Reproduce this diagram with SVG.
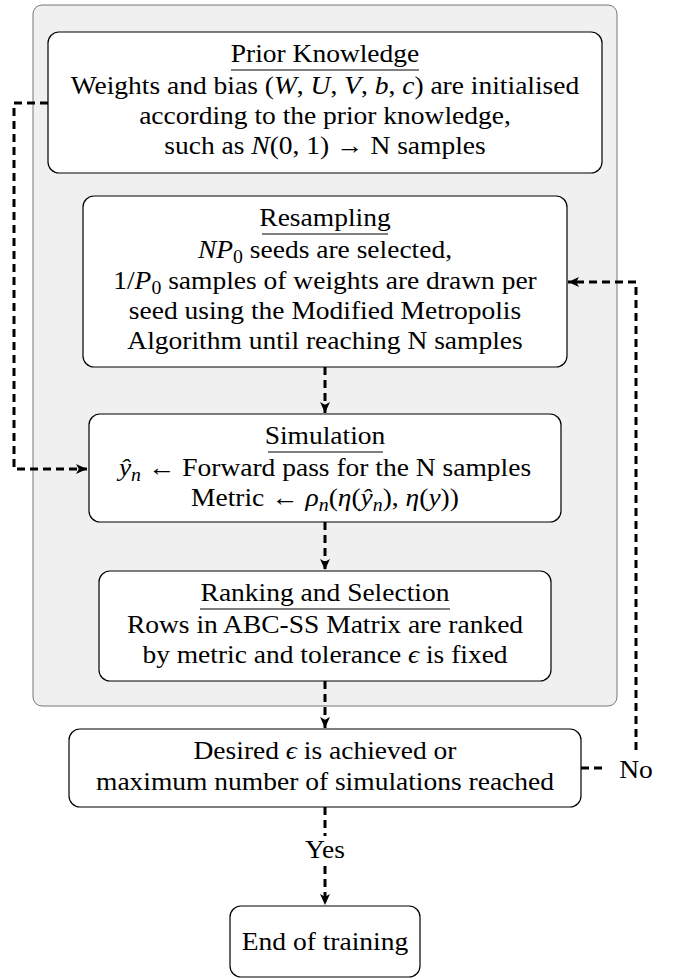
<svg xmlns="http://www.w3.org/2000/svg" width="675" height="979" viewBox="0 0 675 979">
<style>
text{font-size:25px;text-anchor:middle;fill:#000}
.m{font-style:italic}
.box{fill:#fff;stroke:#000;stroke-width:1.2}
.ul{stroke:#000;stroke-width:1.2}
.c{fill:none;stroke:#000;stroke-width:3;stroke-dasharray:8 5}
</style>
<defs>
<marker id="ah" viewBox="0 0 10 10" refX="10" refY="5" markerWidth="11" markerHeight="11" markerUnits="userSpaceOnUse" orient="auto">
<path d="M0,0.5 L10,5 L0,9.5 L2.5,5 z" fill="#000"/>
</marker>
</defs>
<rect id="container" x="33" y="5" width="584" height="701" rx="9" fill="#f0f0f0" stroke="#777" stroke-width="1"/>

<g id="prior">
<rect class="box" x="48" y="32" width="554" height="141" rx="11"/>
<line class="ul" x1="231" y1="70" x2="419" y2="70"/>
<g transform="matrix(1.1 0 0 1 -32.5 0)">
<text x="325" y="62" font-family="Liberation Serif">Prior Knowledge</text>
<text x="325" y="94" font-family="Liberation Serif">Weights and bias (<tspan class="m">W</tspan>, <tspan class="m">U</tspan>, <tspan class="m">V</tspan>, <tspan class="m">b</tspan>, <tspan class="m">c</tspan>) are initialised</text>
<text x="325" y="124" font-family="Liberation Serif">according to the prior knowledge,</text>
<text x="325" y="154" font-family="Liberation Serif">such as <tspan class="m">N</tspan>(0, 1) &#x2192; N samples</text>
</g>
</g>

<g id="resampling">
<rect class="box" x="83" y="196" width="484" height="171" rx="11"/>
<line class="ul" x1="262" y1="234" x2="388" y2="234"/>
<g transform="matrix(1.1 0 0 1 -32.5 0)">
<text x="325" y="226" font-family="Liberation Serif">Resampling</text>
<text x="325" y="258" font-family="Liberation Serif"><tspan class="m">NP</tspan><tspan font-size="18" dy="5">0</tspan><tspan dy="-5"> seeds are selected,</tspan></text>
<text x="325" y="289" font-family="Liberation Serif">1/<tspan class="m">P</tspan><tspan font-size="18" dy="5">0</tspan><tspan dy="-5"> samples of weights are drawn per</tspan></text>
<text x="325" y="319" font-family="Liberation Serif">seed using the Modified Metropolis</text>
<text x="325" y="349" font-family="Liberation Serif">Algorithm until reaching N samples</text>
</g>
</g>

<g id="simulation">
<rect class="box" x="89" y="414" width="472" height="108" rx="11"/>
<line class="ul" x1="268" y1="452" x2="383" y2="452"/>
<g transform="matrix(1.1 0 0 1 -32.5 0)">
<text x="325" y="444" font-family="Liberation Serif">Simulation</text>
<text x="325" y="476" font-family="Liberation Serif"><tspan class="m">&#x177;</tspan><tspan class="m" font-size="18" dy="5">n</tspan><tspan dy="-5"> &#x2190; Forward pass for the N samples</tspan></text>
<text x="325" y="506" font-family="Liberation Serif">Metric &#x2190; <tspan class="m">&#x3C1;</tspan><tspan class="m" font-size="18" dy="5">n</tspan><tspan dy="-5">(</tspan><tspan class="m">&#x3B7;</tspan>(<tspan class="m">&#x177;</tspan><tspan class="m" font-size="18" dy="5">n</tspan><tspan dy="-5">), </tspan><tspan class="m">&#x3B7;</tspan>(<tspan class="m">y</tspan>))</text>
</g>
</g>

<g id="ranking">
<rect class="box" x="99" y="571" width="452" height="110" rx="11"/>
<line class="ul" x1="200" y1="609" x2="450" y2="609"/>
<g transform="matrix(1.1 0 0 1 -32.5 0)">
<text x="325" y="601" font-family="Liberation Serif">Ranking and Selection</text>
<text x="325" y="633" font-family="Liberation Serif">Rows in ABC-SS Matrix are ranked</text>
<text x="325" y="663" font-family="Liberation Serif">by metric and tolerance <tspan class="m">&#x3F5;</tspan> is fixed</text>
</g>
</g>

<g id="decision">
<rect class="box" x="69" y="729" width="512" height="78" rx="11"/>
<g transform="matrix(1.1 0 0 1 -32.5 0)">
<text x="325" y="759" font-family="Liberation Serif">Desired <tspan class="m">&#x3F5;</tspan> is achieved or</text>
<text x="325" y="790" font-family="Liberation Serif">maximum number of simulations reached</text>
</g>
</g>

<g id="end">
<rect class="box" x="230" y="906" width="190" height="71" rx="11"/>
<g transform="matrix(1.1 0 0 1 -32.5 0)">
<text x="325" y="950" font-family="Liberation Serif">End of training</text>
</g>
</g>

<g id="no-label">
<text x="636" y="778" font-family="Liberation Serif" transform="matrix(1.1 0 0 1 -63.6 0)">No</text>
</g>

<g id="yes-label">
<text x="325" y="858" font-family="Liberation Serif" transform="matrix(1.1 0 0 1 -32.5 0)">Yes</text>
</g>

<g id="connectors">
<path class="c" d="M48,103 H14 V469 H87" marker-end="url(#ah)"/>
<path class="c" d="M325,367 V413" marker-end="url(#ah)"/>
<path class="c" d="M325,522 V570" marker-end="url(#ah)"/>
<path class="c" d="M325,681 V728" marker-end="url(#ah)"/>
<path class="c" d="M581,768 H603"/>
<path class="c" d="M636,750 V282 H568" marker-end="url(#ah)"/>
<path class="c" d="M325,807 V836"/>
<path class="c" d="M325,866 V905" marker-end="url(#ah)"/>
</g>
</svg>
